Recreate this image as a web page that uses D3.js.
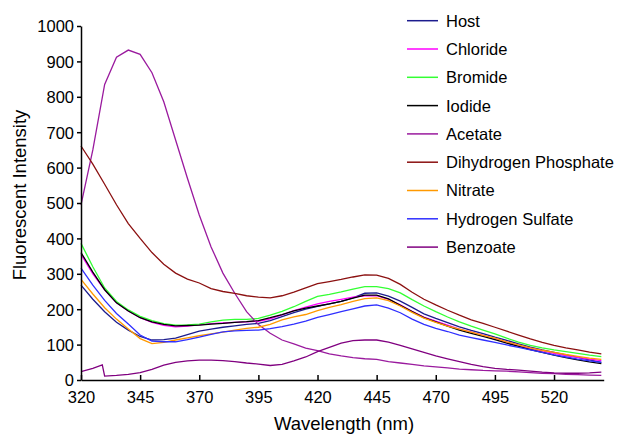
<!DOCTYPE html>
<html>
<head>
<meta charset="utf-8">
<script src="https://cdn.jsdelivr.net/npm/d3@7"></script>
<style>
  body { margin: 0; background: #fff; }
  text { font-family: "Liberation Sans", Arial, sans-serif; fill: #000; }
</style>
</head>
<body>
<script>
var wavelengths = [320,325,330,335,340,345,350,355,360,365,370,375,380,385,390,395,400,405,410,415,420,425,430,435,440,445,450,455,460,465,470,475,480,485,490,495,500,505,510,515,520,525,530,535,540];

var host = [268,228,193,163,141,123,113,114,118,128,138,144,149,153,157,160,168,179,190,200,208,215,222,232,245,246,237,223,205,187,174,162,150,140,131,121,112,102,93,85,78,71,64,57,50];
var chloride = [355,300,255,218,195,176,163,154,150,152,156,159,161,163,164,166,173,184,196,206,215,222,228,234,238,238,228,212,194,178,166,155,144,135,126,117,107,98,89,82,75,69,64,59,55];
var bromide = [386,320,260,222,198,180,168,159,155,156,158,164,169,171,171,174,183,194,207,222,236,242,249,257,264,264,258,246,227,209,193,178,164,152,141,130,118,107,98,91,85,80,75,70,66];
var iodide = [360,305,255,218,195,176,164,157,153,154,155,158,160,163,165,168,176,185,195,203,209,215,222,231,240,240,229,211,193,176,164,152,141,132,123,114,104,95,86,78,70,63,57,51,46];
var acetate = [495,650,835,912,932,920,868,786,678,570,466,376,302,245,193,157,132,113,102,90,83,74,68,63,60,58,52,48,44,40,37,34,31,29,27,26,25,23,21,19,18,16,15,14,13];
var dihydrogenPhosphate = [661,610,553,495,442,400,360,327,302,285,274,258,250,245,238,234,232,238,248,260,272,278,284,291,297,296,287,270,248,228,212,197,183,170,160,149,138,127,116,106,98,91,85,79,74];
var nitrate = [284,243,204,172,144,117,103,106,113,119,125,130,135,141,146,149,157,170,178,185,196,205,213,222,230,232,224,209,191,175,163,152,144,135,126,118,108,99,91,84,78,72,67,62,58];
var hydrogenSulfate = [316,268,225,188,158,127,110,108,108,114,121,129,136,139,140,141,145,151,158,166,177,185,193,201,209,212,203,190,172,157,146,137,127,120,113,106,99,92,85,78,71,65,59,54,50];

// benzoate has a sharp step near 330 nm, so it keeps its own wavelengths
var benzoateWavelengths = [320,325,329,330,335,340,345,350,355,360,365,370,375,380,385,390,395,400,405,410,415,420,425,430,435,440,445,450,455,460,465,470,475,480,485,490,495,500,505,510,515,520,525,530,535,540];
var benzoate = [24,33,43,11,13,16,21,30,42,50,54,56,56,55,52,48,45,41,44,54,65,80,92,104,111,113,113,107,98,88,78,68,60,52,44,38,33,30,28,25,22,20,19,19,20,22];

var seriesNames = ["Host","Chloride","Bromide","Iodide","Acetate","Dihydrogen Phosphate","Nitrate","Hydrogen Sulfate","Benzoate"];
var seriesColors = ["#1c1c8e","#ff00ff","#33ff33","#000000","#9a1a9e","#8b1010","#ff9900","#2f2fff","#800080"];
var yTicks = [0,100,200,300,400,500,600,700,800,900,1000];
var xTicks = [320,345,370,395,420,445,470,495,520];

var series = [
  {x: wavelengths, y: host},
  {x: wavelengths, y: chloride},
  {x: wavelengths, y: bromide},
  {x: wavelengths, y: iodide},
  {x: wavelengths, y: acetate},
  {x: wavelengths, y: dihydrogenPhosphate},
  {x: wavelengths, y: nitrate},
  {x: wavelengths, y: hydrogenSulfate},
  {x: benzoateWavelengths, y: benzoate}
].map(function(s, i) {
  return {name: seriesNames[i], color: seriesColors[i],
          points: s.x.map(function(w, j) { return [w, s.y[j]]; })};
});

var width = 619, height = 434;

var svg = d3.select("body").append("svg")
    .attr("width", width)
    .attr("height", height);

var x = d3.scaleLinear().domain([320, 541]).range([81, 603.7]);
var y = d3.scaleLinear().domain([0, 1000]).range([380, 26]);

var line = d3.line()
    .x(function(d) { return x(d[0]); })
    .y(function(d) { return y(d[1]); });

svg.append("g")
    .selectAll("path")
    .data(series)
  .enter().append("path")
    .attr("d", function(d) { return line(d.points); })
    .attr("fill", "none")
    .attr("stroke", function(d) { return d.color; })
    .attr("stroke-width", 1.3);

// axes
var yAxis = svg.append("g")
    .attr("transform", "translate(81,0)")
    .call(d3.axisLeft(y).tickValues(yTicks).tickFormat(d3.format("d"))
      .tickSize(4).tickSizeOuter(0).tickPadding(3));

var xAxis = svg.append("g")
    .attr("transform", "translate(0,380)")
    .call(d3.axisBottom(x).tickValues(xTicks).tickFormat(d3.format("d"))
      .tickSizeInner(-5).tickSizeOuter(0).tickPadding(11));

[xAxis, yAxis].forEach(function(a) {
  a.selectAll("path, line").attr("stroke", "#000").attr("stroke-width", 1.5);
  a.selectAll("text").style("font-size", "16.5px").attr("fill", "#000")
      .style("font-family", '"Liberation Sans", Arial, sans-serif');
});
yAxis.selectAll("text").attr("dy", "0.36em");

svg.append("text")
    .attr("x", 344)
    .attr("y", 430)
    .attr("text-anchor", "middle")
    .style("font-size", "18.5px")
    .text("Wavelength (nm)");

svg.append("text")
    .attr("transform", "translate(26,195) rotate(-90)")
    .attr("text-anchor", "middle")
    .style("font-size", "18.5px")
    .text("Fluorescent Intensity");

// legend
var legend = svg.append("g")
    .selectAll("g")
    .data(series)
  .enter().append("g")
    .attr("transform", function(d, i) { return "translate(407," + (20.7 + i * 28.3) + ")"; });

legend.append("line")
    .attr("x1", 0).attr("x2", 31)
    .attr("stroke", function(d) { return d.color; })
    .attr("stroke-width", 1.5);

legend.append("text")
    .attr("x", 39)
    .attr("dy", "0.36em")
    .style("font-size", "16.5px")
    .text(function(d) { return d.name; });
</script>
</body>
</html>
